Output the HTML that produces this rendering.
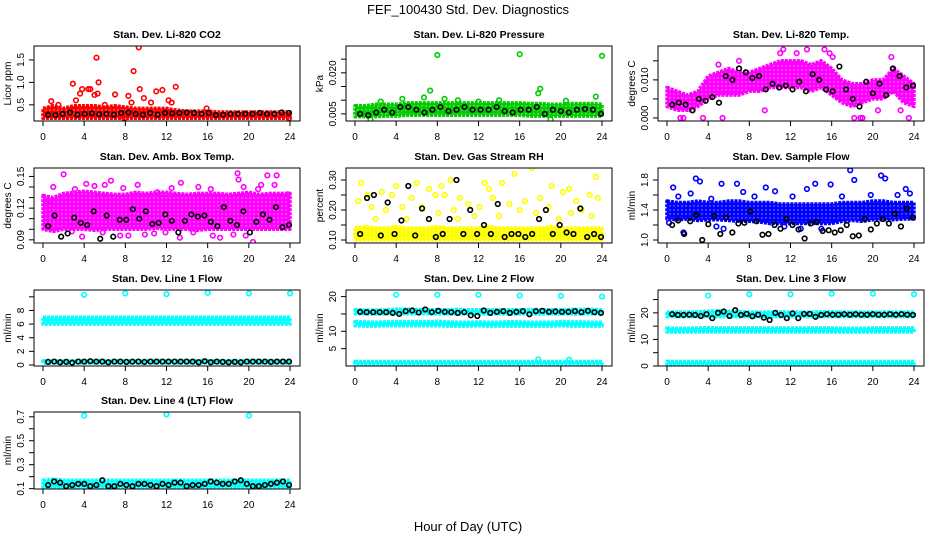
<!DOCTYPE html>
<html><head><meta charset="utf-8">
<style>
html,body{margin:0;padding:0;background:#fff;}
svg{display:block;font-family:"Liberation Sans",sans-serif;}
</style></head>
<body>
<svg id="chart" width="936" height="540" viewBox="0 0 936 540" xmlns="http://www.w3.org/2000/svg">
<rect width="936" height="540" fill="#fff"/>
<text x="468" y="14" text-anchor="middle" font-size="13">FEF_100430  Std. Dev. Diagnostics</text>
<text x="468" y="531" text-anchor="middle" font-size="13">Hour of Day (UTC)</text>
</svg>
<script>
// ---- data ----
const xTicks = [0,4,8,12,16,20,24];
const titles = ["Stan. Dev. Li-820 CO2","Stan. Dev. Li-820 Pressure","Stan. Dev. Li-820 Temp.","Stan. Dev. Amb. Box Temp.","Stan. Dev. Gas Stream RH","Stan. Dev. Sample Flow","Stan. Dev. Line 1 Flow","Stan. Dev. Line 2 Flow","Stan. Dev. Line 3 Flow","Stan. Dev. Line 4 (LT) Flow"];
const yLabels = ["Licor ppm","kPa","degrees C","degrees C","percent","ml/min","ml/min","ml/min","ml/min","ml/min"];
const colors = ["#ff0000","#00cc00","#ff00ff","#ff00ff","#ffff00","#0000ff","#00ffff","#00ffff","#00ffff","#00ffff"];
const yLims = [[0.14,1.81],[0.0024,0.0298],[-0.0008,0.0189],[0.087,0.158],[0.09,0.34],[0.96,1.96],[-0.15,11],[0,21.9],[0,28.6],[0.097,0.74]];
const yTicks = [[0.5,1,1.5],[0.005,0.01,0.015,0.02,0.025],[0,0.005,0.01,0.015],[0.09,0.1,0.11,0.12,0.13,0.14,0.15],[0.1,0.15,0.2,0.25,0.3],[1.0,1.2,1.4,1.6,1.8],[0,2,4,6,8,10],[5,10,15,20],[0,5,10,15,20,25],[0.1,0.2,0.3,0.4,0.5,0.6,0.7]];
const yTickLabels = [["0.5","1.0","1.5"],["0.005","","","0.020",""],["0.000","","0.010",""],["0.09","","","0.12","","","0.15"],["0.10","","0.20","","0.30"],["1.0","","1.4","","1.8"],["0","2","4","6","8",""],["5","10","","20"],["0","","10","","20",""],["0.1","","0.3","","0.5","","0.7"]];
// bands: dense point clouds, per hour 0..24 (lo, hi)
const bandLo = [
 [[.2,.2,.2,.2,.2,.2,.2,.2,.2,.2,.2,.2,.2,.2,.2,.2,.2,.2,.2,.2,.2,.2,.2,.2,.2]],
 [[.004,.004,.004,.0042,.0042,.0045,.0045,.0045,.0045,.0045,.0045,.0045,.0045,.0045,.0045,.0045,.0045,.0042,.0042,.0042,.0042,.0042,.0042,.0042,.0042]],
 [[.003,.002,.002,.003,.005,.006,.006,.006,.007,.007,.008,.008,.008,.008,.007,.008,.006,.004,.003,.004,.005,.005,.007,.004,.003]],
 [[.1,.098,.1,.1,.1,.099,.1,.1,.1,.1,.1,.101,.1,.1,.1,.099,.1,.1,.1,.1,.1,.1,.1,.1,.1]],
 [[.1,.1,.1,.1,.1,.1,.1,.1,.1,.1,.1,.1,.1,.1,.1,.1,.1,.1,.1,.1,.1,.1,.1,.1,.1]],
 [[1.28,1.27,1.28,1.26,1.27,1.27,1.26,1.25,1.25,1.24,1.22,1.22,1.22,1.22,1.22,1.22,1.22,1.25,1.26,1.25,1.27,1.27,1.27,1.28,1.28]],
 [[.3,.3,.3,.3,.3,.3,.3,.3,.3,.3,.3,.3,.3,.3,.3,.3,.3,.3,.3,.3,.3,.3,.3,.3,.3],[6,6,6,6,6,6,6,6,6,6,6,6,6,6,6,6,6,6,6,6,6,6,6,6,6]],
 [[.6,.6,.6,.6,.6,.6,.6,.6,.6,.6,.6,.6,.6,.6,.6,.6,.6,.6,.6,.6,.6,.6,.6,.6,.6],[11.6,11.5,11.5,11.6,11.6,11.6,11.6,11.6,11.6,11.5,11.5,11.5,11.6,11.5,11.5,11.5,11.5,11.5,11.5,11.5,11.6,11.5,11.5,11.5,11.5],[15.1,15,15,15,15.1,15.1,15.1,15.1,15,15,15,15,15,15,15,15,15,15,15,15,15,15,15,15,15]],
 [[.5,.5,.5,.5,.5,.5,.5,.5,.5,.5,.5,.5,.5,.5,.5,.5,.5,.5,.5,.5,.5,.5,.5,.5,.5],[12.8,12.8,12.8,12.8,12.8,12.8,12.8,12.8,12.8,12.8,12.8,12.8,12.8,12.8,12.8,12.8,12.8,12.8,12.8,12.8,12.8,12.8,12.8,12.8,12.8],[18.6,18.6,18.6,18.6,18.6,18.6,18.6,18.6,18.6,18.6,18.6,18.6,18.6,18.6,18.6,18.6,18.6,18.6,18.6,18.6,18.6,18.6,18.6,18.6,18.6]],
 [[.11,.11,.11,.11,.11,.11,.11,.11,.11,.11,.11,.11,.11,.11,.11,.11,.11,.11,.11,.11,.11,.11,.11,.11,.11]]
];
const bandHi = [
 [[.42,.48,.42,.48,.48,.48,.45,.48,.45,.42,.42,.42,.42,.38,.36,.36,.36,.34,.34,.34,.34,.34,.34,.34,.34]],
 [[.008,.008,.0085,.0085,.0085,.009,.009,.009,.009,.009,.009,.009,.009,.009,.009,.009,.009,.0088,.0088,.0085,.0085,.0088,.0088,.0088,.0085]],
 [[.008,.007,.006,.007,.011,.012,.013,.012,.012,.013,.014,.015,.015,.015,.014,.015,.013,.010,.009,.009,.010,.010,.013,.011,.009]],
 [[.132,.13,.134,.135,.136,.135,.134,.133,.133,.135,.134,.135,.135,.134,.133,.134,.134,.134,.133,.134,.135,.133,.134,.134,.134]],
 [[.14,.145,.14,.14,.145,.14,.14,.14,.145,.14,.14,.14,.14,.145,.14,.14,.14,.14,.14,.145,.14,.14,.14,.14,.14]],
 [[1.52,1.5,1.5,1.52,1.5,1.5,1.52,1.52,1.5,1.5,1.5,1.48,1.48,1.48,1.48,1.48,1.48,1.5,1.5,1.5,1.52,1.52,1.5,1.5,1.5]],
 [[.6,.6,.6,.6,.6,.6,.6,.6,.6,.6,.6,.6,.6,.6,.6,.6,.6,.6,.6,.6,.6,.6,.6,.6,.6],[7,7,7,7,7,7,7,7,7,7,7,7,7,7,7,7,7,7,7,7,7,7,7,7,7]],
 [[1.3,1.3,1.3,1.3,1.3,1.3,1.3,1.3,1.3,1.3,1.3,1.3,1.3,1.3,1.3,1.3,1.3,1.3,1.3,1.3,1.3,1.3,1.3,1.3,1.3],[12.8,12.7,12.6,12.7,12.8,12.8,12.8,12.8,12.9,12.7,12.6,12.6,12.7,12.6,12.6,12.8,12.7,12.6,12.6,12.6,12.8,12.7,12.7,12.6,12.6],[16.2,16.1,16.1,16.2,16.4,16.4,16.3,16.2,16.2,16.2,16.3,16.2,16.2,16.2,16.2,16.2,16.2,16.2,16.2,16.2,16.2,16.3,16.3,16.3,16.2]],
 [[1.7,1.7,1.7,1.7,1.7,1.7,1.7,1.7,1.7,1.7,1.7,1.7,1.7,1.7,1.7,1.7,1.7,1.7,1.7,1.7,1.7,1.7,1.7,1.7,1.7],[14.3,14.2,14.2,14.3,14.4,14.3,14.3,14.3,14.3,14.3,14.3,14.3,14.3,14.3,14.3,14.3,14.3,14.2,14.2,14.2,14.3,14.3,14.3,14.3,14.3],[20.3,20.3,20.3,20.4,20.6,20.8,20.6,20.5,20.3,20.3,20.3,20.3,20.3,20.3,20.3,20.4,20.4,20.3,20.3,20.3,20.3,20.3,20.3,20.3,20.3]],
 [[.17,.18,.17,.17,.17,.17,.17,.17,.17,.17,.17,.17,.17,.17,.17,.17,.17,.17,.17,.17,.17,.17,.17,.17,.17]]
];
// scattered colored points: [hour, value]
const outliers = [
 [[2.9,.97],[3.6,.75],[3.8,.85],[4.4,.85],[4.6,.85],[5.2,1.55],[5.4,1.0],[5.3,.75],[5.0,.72],[3.2,.6],[7.0,.73],[8.3,.7],[8.8,1.25],[9.3,1.78],[9.4,.85],[9.8,.65],[11.0,.8],[11.6,.83],[12.9,.9],[12.5,.55],[0.8,.58],[1.5,.5],[6.0,.5],[10.5,.55],[7.9,.2],[15.9,.42],[23.9,.2],[8.6,.55],[12.2,.6]],
 [[8,.0265],[16,.0268],[24,.0262],[7.3,.0135],[18,.0142],[17.8,.0125],[4.6,.0105],[6.7,.011],[8.7,.0105],[10,.01],[12,.0095],[14,.01],[23.4,.0113],[1.5,.003],[19,.003],[2.5,.0095],[20.5,.0098]],
 [[1.3,0],[1.6,0],[3.5,0],[5.4,0],[18.2,0],[18.8,0],[19,0],[23.5,0],[11,.017],[11.3,.018],[13.6,.018],[15.3,.018],[15.8,.017],[16.1,.016],[21.8,.016],[9.5,.002],[2.5,.002],[20.5,.002],[22.7,.002],[5,.014],[7,.015],[12.6,.017]],
 [[1,.14],[2,.152],[3.8,.093],[4.2,.143],[5,.141],[6,.142],[6.6,.146],[7.5,.094],[8.3,.094],[9.2,.142],[11.1,.135],[13.4,.144],[13.3,.092],[15.1,.14],[18.9,.153],[19,.147],[19.5,.14],[20.4,.088],[21.2,.142],[21.8,.151],[22.7,.151],[22.5,.142],[17.2,.092],[16.5,.094],[11.9,.097],[2.8,.098],[0.4,.125],[23.8,.133],[10.8,.096],[14.6,.097],[18.5,.095],[19.7,.094],[3.1,.138],[7.8,.139],[12.5,.139],[16.3,.138],[20.9,.138],[9.9,.095],[5.8,.097]],
 [[0.6,.29],[0.3,.23],[1.2,.25],[2.6,.26],[3,.2],[3.6,.25],[4,.28],[5.5,.24],[6,.29],[6.5,.21],[7.2,.27],[7.8,.25],[8.4,.28],[8.7,.25],[9.3,.3],[9.6,.2],[10.2,.24],[11,.22],[11.6,.18],[12.6,.29],[13,.27],[13.4,.24],[14.3,.29],[15.5,.32],[15,.22],[16.5,.23],[17.2,.34],[18,.24],[18.8,.21],[19.1,.28],[20.2,.26],[20.8,.27],[21.5,.23],[22,.2],[22.8,.25],[23.4,.31],[23.6,.24],[2,.17],[5,.17],[10,.17],[14,.18],[17.6,.19],[19.8,.17],[23,.18],[1.6,.21],[4.6,.21],[8.1,.19],[12.1,.21],[16,.2],[21,.19]],
 [[0.6,1.7],[1.6,1.1],[1.1,1.58],[2.3,1.62],[2.8,1.82],[3.2,1.78],[4.3,1.55],[5.3,1.75],[5.5,1.15],[6.8,1.75],[7.4,1.64],[9.6,1.7],[10.5,1.65],[12.2,1.58],[13.6,1.68],[14.4,1.75],[15.9,1.74],[17.8,1.93],[18.2,1.8],[19.8,1.6],[20.8,1.86],[21.2,1.82],[23.2,1.68],[23.6,1.62],[0.2,1.23],[13,1.15],[15,1.15],[4.8,1.18],[8.5,1.58],[11.4,1.18],[17,1.58],[22.4,1.6]],
 [[4,10.3],[8,10.5],[12,10.4],[16,10.6],[20,10.5],[24,10.5]],
 [[4,20.5],[8,20.5],[16,20.3],[20,20.2],[24,20],[17.8,1.9],[20.8,1.8],[12,20.5]],
 [[4,26.5],[8,27],[12,27],[16,27.2],[20,27.2],[24,27]],
 [[4,.71],[12,.72],[20,.71]]
];
// black series (regular samples across 0.5–23.9 h)
const blackVals = [
 [.28,.27,.3,.33,.28,.3,.31,.29,.3,.28,.32,.33,.3,.28,.32,.28,.32,.31,.32,.33,.32,.3,.32,.27,.28,.3,.3,.3,.3,.32,.3,.3,.33,.32],
 [.005,.0045,.0055,.0065,.0055,.0075,.0075,.0065,.0055,.0065,.0075,.006,.0065,.0075,.0065,.0065,.0065,.0075,.006,.0055,.0065,.0065,.0075,.005,.0065,.006,.0055,.0065,.0068,.0065,.005],
 [.0035,.004,.0035,.002,.005,.0045,.0055,.004,.011,.01,.013,.012,.0105,.011,.0075,.009,.008,.0085,.0075,.0095,.007,.0115,.01,.0075,.007,.0135,.0075,.005,.003,.0095,.0065,.009,.006,.013,.011,.008,.0085],
 [.103,.113,.093,.096,.111,.106,.104,.117,.091,.113,.093,.109,.109,.119,.110,.117,.105,.106,.114,.108,.097,.108,.114,.112,.113,.107,.103,.121,.108,.104,.117,.097,.107,.114,.109,.121,.102,.104],
 [.12,.24,.25,.115,.225,.12,.165,.28,.115,.205,.17,.11,.12,.17,.3,.12,.2,.12,.15,.12,.22,.11,.12,.12,.11,.12,.17,.2,.12,.15,.125,.12,.205,.11,.12,.11],
 [1.2,1.26,1.08,1.25,1.33,1.0,1.21,1.32,1.08,1.3,1.1,1.22,1.23,1.38,1.25,1.07,1.08,1.2,1.15,1.28,1.2,1.14,1.02,1.22,1.24,1.12,1.13,1.1,1.13,1.2,1.05,1.06,1.28,1.14,1.22,1.28,1.22,1.35,1.18,1.42,1.3],
 [.45,.5,.4,.45,.35,.5,.5,.55,.5,.5,.4,.5,.5,.45,.5,.5,.45,.5,.5,.5,.5,.5,.5,.5,.5,.4,.55,.4,.5,.45,.4,.45,.4,.5,.5,.5,.5,.45,.5,.5,.5],
 [15.6,15.5,15.5,15.5,15.5,15.3,15,15.8,16,15.4,16.3,15.5,15.9,15.6,15.5,15.3,15.5,14.6,14.4,16,15.3,15.6,15.8,15.3,15.6,15.8,14.9,15.8,15.9,15.6,15.7,15.6,15.6,15.8,15.5,15.9,15.5,15.3],
 [19.5,19.2,19.2,19.3,19.2,18.8,19.5,18,20,20.5,18.8,21,19.2,19.6,18.7,19.3,18.2,17.3,20,19.2,18,19.8,18,19.6,19.6,18.5,19.2,19.5,19.3,19.3,19.5,19.3,19.5,19.3,19.3,19.5,19.3,19.3,19.5,19.3,19.5,19.3,19.2],
 [.13,.16,.15,.12,.13,.14,.14,.12,.13,.17,.12,.12,.14,.13,.12,.14,.14,.13,.12,.14,.13,.15,.15,.12,.13,.13,.14,.16,.15,.14,.14,.16,.17,.14,.12,.12,.13,.14,.15,.16,.13]
];
const panelNames = ["co2","pressure","licor-temp","amb-box-temp","gas-rh","sample-flow","line1-flow","line2-flow","line3-flow","line4-flow"];

// ---- layout ----
const NS = "http://www.w3.org/2000/svg";
const svg = document.getElementById('chart');
const colLeft = [34,346,658], boxW = 266;
const rowTop = [46,168,290,412], rowBot = [121,243,366,489];
function mk(tag, attrs, parent){const e=document.createElementNS(NS,tag);for(const k in attrs)e.setAttribute(k,attrs[k]);(parent||svg).appendChild(e);return e;}
const defs = mk('defs',{});

for (let p=0;p<10;p++){
  const col=p%3, row=Math.floor(p/3);
  const L=colLeft[col], R=L+boxW, T=rowTop[row], B=rowBot[row];
  // texture pattern mimicking dense open circles
  const pat = mk('pattern',{id:'pat'+p,width:4,height:4,patternUnits:'userSpaceOnUse'},defs);
  mk('rect',{width:4,height:4,fill:colors[p]},pat);
  mk('circle',{cx:2,cy:2,r:0.7,fill:'#fff','fill-opacity':0.6},pat);
  const g=mk('g',{});
  
  
  const xs = v => (L+9) + v/24*(boxW-19);
  const [y0,y1]=yLims[p];
  const ys = v => B - (v-y0)/(y1-y0)*(B-T);
  const clip = mk('clipPath',{id:'clip'+p},g);
  mk('rect',{x:L,y:T,width:boxW,height:B-T},clip);
  const plot = mk('g',{'clip-path':'url(#clip'+p+')'},g);
  bandLo[p].forEach((lo,bi)=>{
    const hi=bandHi[p][bi];
    let pts=[];
    for(let h=0;h<lo.length;h++) pts.push(xs(h).toFixed(1)+','+ys(hi[h]).toFixed(1));
    for(let h=lo.length-1;h>=0;h--) pts.push(xs(h).toFixed(1)+','+ys(lo[h]).toFixed(1));
    const b=mk('polygon',{points:pts.join(' '),fill:'url(#pat'+p+')',stroke:colors[p],'stroke-width':3.5,'stroke-linejoin':'round','stroke-dasharray':'3 1'},plot);
    
    
  });
  outliers[p].forEach(d=>{
    const c=mk('circle',{cx:xs(d[0]),cy:ys(d[1]),r:2.3,fill:'none',stroke:colors[p],'stroke-width':1.6},plot);
    
    
  });
  const bv=blackVals[p], n=bv.length;
  bv.forEach((v,i)=>{
    const h = 0.5 + i*(23.4/(n-1));
    const c=mk('circle',{cx:xs(h),cy:ys(v),r:2.3,fill:'none',stroke:'#000','stroke-width':1.6},plot);
    
    
  });
  const bx=mk('rect',{x:L,y:T,width:boxW,height:B-T,fill:'none',stroke:'#000','stroke-width':1},g);
  
  
  xTicks.forEach(t=>{
    mk('line',{x1:xs(t),x2:xs(t),y1:B,y2:B+5,stroke:'#000'},g);
    const tx=mk('text',{x:xs(t),y:B+19,'text-anchor':'middle','font-size':10},g);
    tx.textContent=t;
    
    
  });
  yTicks[p].forEach((t,i)=>{
    const y=ys(t);
    mk('line',{x1:L-5,x2:L,y1:y,y2:y,stroke:'#000'},g);
    const lab=yTickLabels[p][i];
    if(lab){
      const tx=mk('text',{x:L-10,y:y,'text-anchor':'middle','font-size':10,transform:'rotate(-90 '+(L-10)+' '+y+')'},g);
      tx.textContent=lab;
      
      
    }
  });
  const ti=mk('text',{x:(L+R)/2,y:T-8,'text-anchor':'middle','font-size':10.5,'font-weight':'bold'},g);
  ti.textContent=titles[p];
  
  
  const yl=(T+B)/2, xl=L-23;
  const yt=mk('text',{x:xl,y:yl,'text-anchor':'middle','font-size':10,transform:'rotate(-90 '+xl+' '+yl+')'},g);
  yt.textContent=yLabels[p];
  
  
}
</script>
</body></html>
